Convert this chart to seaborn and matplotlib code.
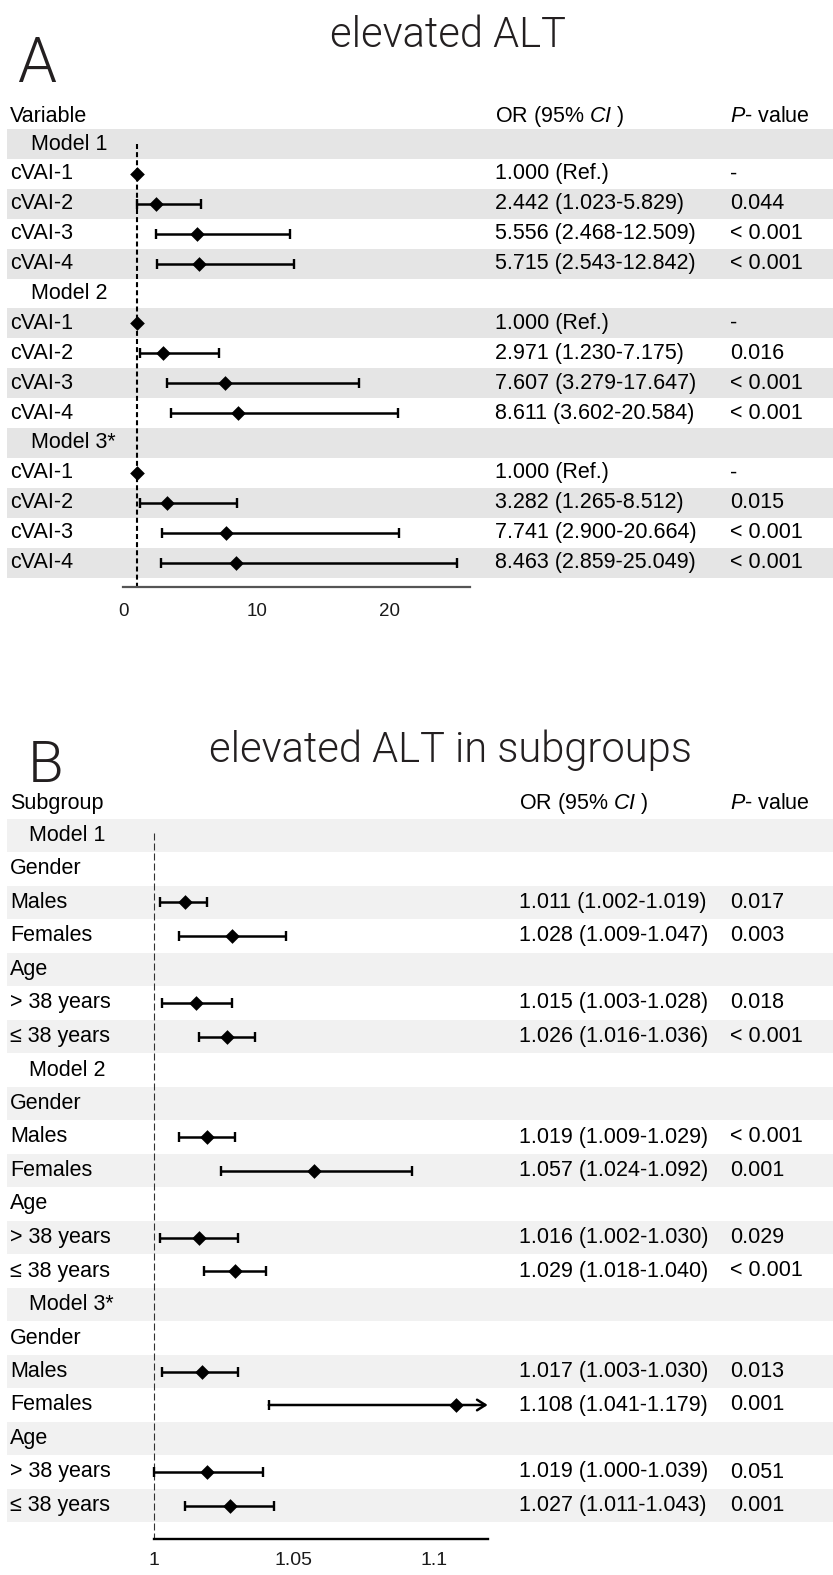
import numpy as np
import matplotlib
matplotlib.use("Agg")
import matplotlib.pyplot as plt
from matplotlib import font_manager as fm
import seaborn as sns

nan = np.nan

# ---- Panel A: elevated ALT by cVAI quartile ----
a_labels = ["Model 1", "cVAI-1", "cVAI-2", "cVAI-3", "cVAI-4",
            "Model 2", "cVAI-1", "cVAI-2", "cVAI-3", "cVAI-4",
            "Model 3*", "cVAI-1", "cVAI-2", "cVAI-3", "cVAI-4"]
a_or = [nan, 1.000, 2.442, 5.556, 5.715,
        nan, 1.000, 2.971, 7.607, 8.611,
        nan, 1.000, 3.282, 7.741, 8.463]
a_lo = [nan, nan, 1.023, 2.468, 2.543,
        nan, nan, 1.230, 3.279, 3.602,
        nan, nan, 1.265, 2.900, 2.859]
a_hi = [nan, nan, 5.829, 12.509, 12.842,
        nan, nan, 7.175, 17.647, 20.584,
        nan, nan, 8.512, 20.664, 25.049]
a_p = ["", "-", "0.044", "< 0.001", "< 0.001",
       "", "-", "0.016", "< 0.001", "< 0.001",
       "", "-", "0.015", "< 0.001", "< 0.001"]
a_ticks = [0, 10, 20]
a_tick_labels = ["0", "10", "20"]

# ---- Panel B: elevated ALT in subgroups ----
b_labels = ["Model 1", "Gender", "Males", "Females", "Age", "> 38 years", "≤ 38 years",
            "Model 2", "Gender", "Males", "Females", "Age", "> 38 years", "≤ 38 years",
            "Model 3*", "Gender", "Males", "Females", "Age", "> 38 years", "≤ 38 years"]
b_or = [nan, nan, 1.011, 1.028, nan, 1.015, 1.026,
        nan, nan, 1.019, 1.057, nan, 1.016, 1.029,
        nan, nan, 1.017, 1.108, nan, 1.019, 1.027]
b_lo = [nan, nan, 1.002, 1.009, nan, 1.003, 1.016,
        nan, nan, 1.009, 1.024, nan, 1.002, 1.018,
        nan, nan, 1.003, 1.041, nan, 1.000, 1.011]
b_hi = [nan, nan, 1.019, 1.047, nan, 1.028, 1.036,
        nan, nan, 1.029, 1.092, nan, 1.030, 1.040,
        nan, nan, 1.030, 1.179, nan, 1.039, 1.043]
b_p = ["", "", "0.017", "0.003", "", "0.018", "< 0.001",
       "", "", "< 0.001", "0.001", "", "0.029", "< 0.001",
       "", "", "0.013", "0.001", "", "0.051", "0.001"]
b_ticks = [1.0, 1.05, 1.1]
b_tick_labels = ["1", "1.05", "1.1"]

W, H, DPI = 833, 1575, 100

sns.set_theme(style="white")
plt.rcParams["font.family"] = ["Liberation Sans", "DejaVu Sans"]
plt.rcParams["mathtext.fontset"] = "custom"
plt.rcParams["mathtext.rm"] = "Liberation Sans"
plt.rcParams["mathtext.it"] = "Liberation Sans:italic"

fig = plt.figure(figsize=(W / DPI, H / DPI), dpi=DPI)
fig.patch.set_facecolor("white")

INK = "#231f20"


def light_face(size):
    """A thin sans face for the panel headings, falling back to a regular one."""
    prefs = ["Roboto", "Lato", "Noto Sans CJK SC", "Open Sans", "Inter", "Noto Sans"]
    faces = {}
    for f in fm.fontManager.ttflist:
        w = f.weight if isinstance(f.weight, int) else 400
        if f.style == "normal" and 250 <= w <= 300:
            faces.setdefault(f.name, f.fname)
    for name in prefs:
        if name in faces:
            return fm.FontProperties(fname=faces[name], size=size)
    return fm.FontProperties(family="Roboto", weight="light", size=size)


def px_axes(x0, y0, x1, y1):
    """Axes placed by pixel box (top-left origin)."""
    return fig.add_axes([x0 / W, 1 - y1 / H, (x1 - x0) / W, (y1 - y0) / H])


def or_text(o, lo, hi):
    if np.isnan(o):
        return ""
    if np.isnan(lo):
        return f"{o:.3f} (Ref.)"
    return f"{o:.3f} ({lo:.3f}-{hi:.3f})"


def draw_panel(labels, ors, los, his, pvals, ticks, tick_labels, cfg):
    n = len(labels)
    c0, step, axis_y = cfg["row0"], cfg["step"], cfg["axis_y"]
    top_row = -1.6
    bottom_row = (axis_y - c0) / step
    y_top_px = c0 + top_row * step

    # table layer: striped rows and text columns (x in pixels)
    bg = px_axes(7, y_top_px, W, axis_y)
    bg.set_xlim(7, W)
    bg.set_ylim(bottom_row, top_row)
    bg.axis("off")
    for i in range(n):
        if i % 2 == 0:
            bg.axhspan(i - 0.5, i + 0.5, color=cfg["band"], lw=0, zorder=0)

    fs = cfg["fs"]
    hy = cfg["header_row"]
    bg.text(10, hy, cfg["first_header"], fontsize=fs, va="center", ha="left", color="black")
    bg.text(cfg["or_x"], hy, r"OR (95% $CI$ )", fontsize=fs, va="center", ha="left", color="black")
    bg.text(cfg["p_x"], hy, r"$P$- value", fontsize=fs, va="center", ha="left", color="black")

    for i, lab in enumerate(labels):
        x = cfg["indent_x"] if lab.startswith("Model") else 10
        bg.text(x, i, lab, fontsize=fs, va="center", ha="left", color="black")
        bg.text(cfg["or_x"], i, or_text(ors[i], los[i], his[i]),
                fontsize=fs, va="center", ha="left", color="black")
        bg.text(cfg["p_x"], i, pvals[i], fontsize=fs, va="center", ha="left", color="black")

    # forest layer
    fa = px_axes(cfg["x0_px"], y_top_px, cfg["x1_px"], axis_y)
    fa.set_facecolor("none")
    for s in ["top", "left", "right"]:
        fa.spines[s].set_visible(False)
    fa.spines["bottom"].set_color(cfg["axis_color"])
    fa.spines["bottom"].set_linewidth(cfg["axis_lw"])

    fa.vlines(cfg["ref"], cfg["ref_start"], bottom_row, colors=cfg["ref_color"],
              linewidth=cfg["ref_lw"], linestyles=(0, cfg["ref_dash"]), zorder=1,
              clip_on=False)

    rows = np.arange(n)
    o = np.asarray(ors, float)
    lo = np.asarray(los, float)
    hi = np.asarray(his, float)
    xmax = cfg["xlim"][1]

    inside = ~np.isnan(lo) & (hi <= xmax)
    fa.errorbar(o[inside], rows[inside], xerr=[o[inside] - lo[inside], hi[inside] - o[inside]],
                fmt="none", ecolor="black", elinewidth=1.8, capsize=3.6, capthick=1.7,
                zorder=2, clip_on=False)

    # intervals running past the axis end get an open arrowhead
    over = ~np.isnan(lo) & (hi > xmax)
    for r in rows[over]:
        fa.annotate("", xy=(xmax, r), xytext=(lo[r], r),
                    arrowprops=dict(arrowstyle="->,head_length=0.6,head_width=0.38",
                                    lw=1.8, color="black", shrinkA=0, shrinkB=0,
                                    mutation_scale=10),
                    annotation_clip=False, zorder=2)
        fa.plot([lo[r]], [r], marker="|", markersize=7.2, markeredgewidth=1.7,
                color="black", clip_on=False, zorder=2)

    pts = ~np.isnan(o)
    sns.scatterplot(x=o[pts], y=rows[pts], marker="D", s=cfg["dia_s"], color="black",
                    linewidth=0, ax=fa, zorder=3, clip_on=False, legend=False)
    fa.set_xlabel("")
    fa.set_ylabel("")
    fa.set_xlim(*cfg["xlim"])
    fa.set_ylim(bottom_row, top_row)
    fa.set_yticks([])
    fa.set_xticks(ticks)
    fa.set_xticklabels(tick_labels)
    fa.tick_params(axis="x", length=0, pad=cfg["tick_pad"], labelsize=cfg["tick_fs"],
                   labelcolor="#1a1a1a")
    return bg, fa


cfg_a = dict(row0=144.0, step=29.9, axis_y=586.7, band="#e5e5e5", fs=15.5,
             header_row=-0.93, first_header="Variable", or_x=495, p_x=730, indent_x=31,
             x0_px=123.3, x1_px=469.9, xlim=(0, 26), axis_color="#555555", axis_lw=1.6,
             tick_pad=12, tick_fs=13.5, ref=1.0, ref_start=0.0, ref_color="black",
             ref_lw=1.5, ref_dash=(2.4, 1.5), dia_s=56)

cfg_b = dict(row0=835.5, step=33.5, axis_y=1539, band="#f1f1f1", fs=15.5,
             header_row=-0.97, first_header="Subgroup", or_x=519, p_x=730, indent_x=29,
             x0_px=154, x1_px=487.7, xlim=(1.0, 1.1192), axis_color="black", axis_lw=1.7,
             tick_pad=9.6, tick_fs=14, ref=1.0, ref_start=-0.07, ref_color="#333333",
             ref_lw=0.8, ref_dash=(6.3, 2.7), dia_s=56)

draw_panel(a_labels, a_or, a_lo, a_hi, a_p, a_ticks, a_tick_labels, cfg_a)
draw_panel(b_labels, b_or, b_lo, b_hi, b_p, b_ticks, b_tick_labels, cfg_b)

# panel headings and letters
fig.text(447.5 / W, 1 - 47 / H, "elevated ALT", fontproperties=light_face(30),
         color=INK, ha="center", va="baseline")
fig.text(450 / W, 1 - 762 / H, "elevated ALT in subgroups", fontproperties=light_face(30),
         color=INK, ha="center", va="baseline")
fig.text(17 / W, 1 - 82 / H, "A", fontproperties=light_face(45),
         color=INK, ha="left", va="baseline")
fig.text(28 / W, 1 - 782 / H, "B", fontproperties=light_face(42),
         color=INK, ha="left", va="baseline")

fig.savefig("out.png", dpi=DPI, facecolor="white")
